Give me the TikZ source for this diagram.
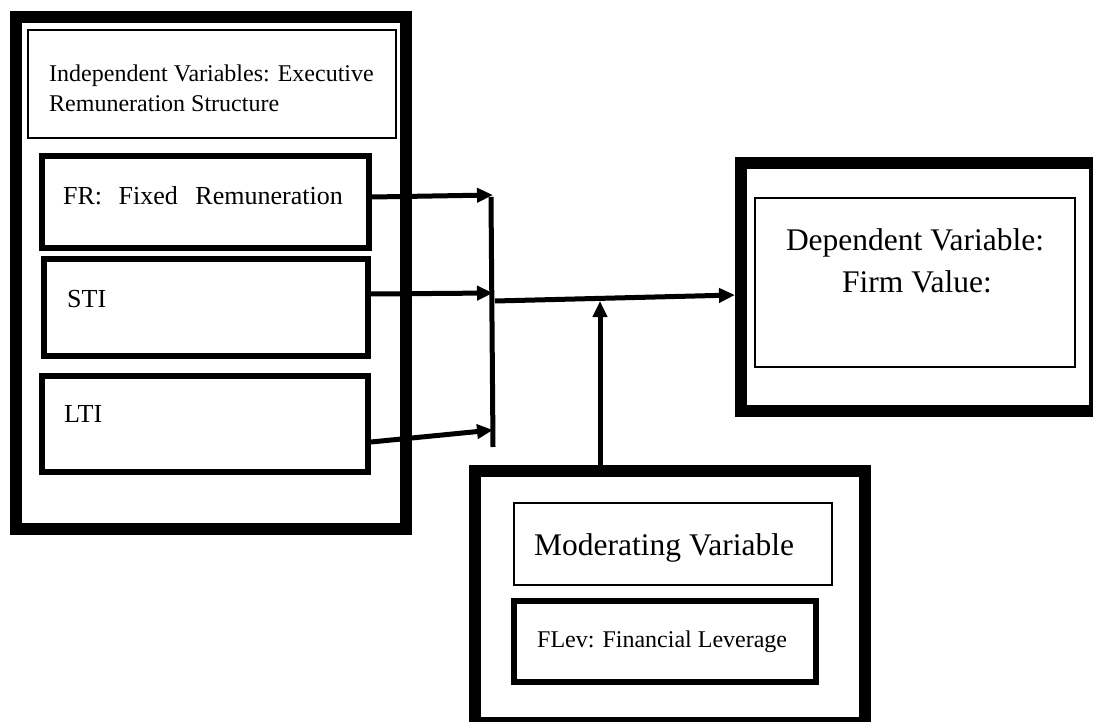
\documentclass[tikz,border=0pt]{standalone}
\usepackage{fontspec}
\setmainfont{Liberation Serif}
\usetikzlibrary{arrows.meta}
\begin{document}
\begin{tikzpicture}[x=1pt,y=-1pt,
  outerbox/.style={draw, line width=12pt, inner sep=0pt, rectangle},
  midbox/.style={draw, line width=6pt, inner sep=0pt, rectangle},
  thinbox/.style={draw, line width=1.8pt, inner sep=0pt, rectangle},
  txt/.style={inner sep=0pt, anchor=base west},
  ctxt/.style={inner sep=0pt, anchor=base},
  conn/.style={line width=5pt},
  arr/.style={line width=5pt, -{Triangle[length=16pt,width=14pt]}}]
\useasboundingbox (0,0) rectangle (1093,722);
% boxes
\node[outerbox, minimum width=390pt, minimum height=512pt] (indep) at (211,273) {};
\node[thinbox, minimum width=368pt, minimum height=108pt] (ivtitle) at (212,84) {};
\node[midbox, minimum width=327pt, minimum height=92pt] (fr) at (205.5,202) {};
\node[midbox, minimum width=324pt, minimum height=97pt] (sti) at (206,307.5) {};
\node[midbox, minimum width=326pt, minimum height=96pt] (lti) at (205,424) {};
\node[outerbox, minimum width=354pt, minimum height=248pt] (dep) at (918,287) {};
\node[thinbox, minimum width=320pt, minimum height=169pt] (deptitle) at (915,282.5) {};
\node[outerbox, minimum width=390pt, minimum height=252pt] (mod) at (670,597) {};
\node[thinbox, minimum width=318pt, minimum height=82pt] (modtitle) at (673,544) {};
\node[midbox, minimum width=302pt, minimum height=81pt] (flev) at (665,641.5) {};
% texts
\node[txt, font=\fontsize{24}{30}\selectfont] (iv1) at (49,82) {Independent Variables: Executive};
\node[txt, font=\fontsize{24}{30}\selectfont] (iv2) at (49,112) {Remuneration Structure};
\node[txt, font=\fontsize{26}{31}\selectfont] (frt) at (63,205) {FR:~\hspace{10pt}Fixed~\hspace{11pt}Remuneration};
\node[txt, font=\fontsize{26}{31}\selectfont] (stit) at (67,308) {STI};
\node[txt, font=\fontsize{26}{31}\selectfont] (ltit) at (64,422) {LTI};
\node[ctxt, font=\fontsize{31.5}{40}\selectfont] (dv1) at (915,251) {Dependent Variable:};
\node[ctxt, font=\fontsize{31.5}{40}\selectfont] (dv2) at (917,293) {Firm Value:};
\node[txt, font=\fontsize{31.5}{40}\selectfont] (mvt) at (534,555) {Moderating Variable};
\node[txt, font=\fontsize{24}{30}\selectfont] (flevt) at (537,647) {FLev: Financial Leverage};
% connector points
\coordinate (bartop) at (491,197);
\coordinate (barbot) at (493,447);
\coordinate (frin) at (493,195);
\coordinate (stiin) at (493,293);
\coordinate (ltiin) at (493,430);
\coordinate (join) at (495,301);
\coordinate (merge) at (600,301);
% connectors
\draw[conn] (bartop) -- (barbot);
\draw[arr] ([yshift=5pt]fr.east) -- (frin);
\draw[arr] ([yshift=13.5pt]sti.east) -- (stiin);
\draw[arr] ([yshift=-18pt]lti.east) -- (ltiin);
\draw[arr] (join) -- ([yshift=-8pt]dep.west);
\draw[arr] ([xshift=-70pt,yshift=-12pt]mod.north) -- (merge);
\end{tikzpicture}
\end{document}
